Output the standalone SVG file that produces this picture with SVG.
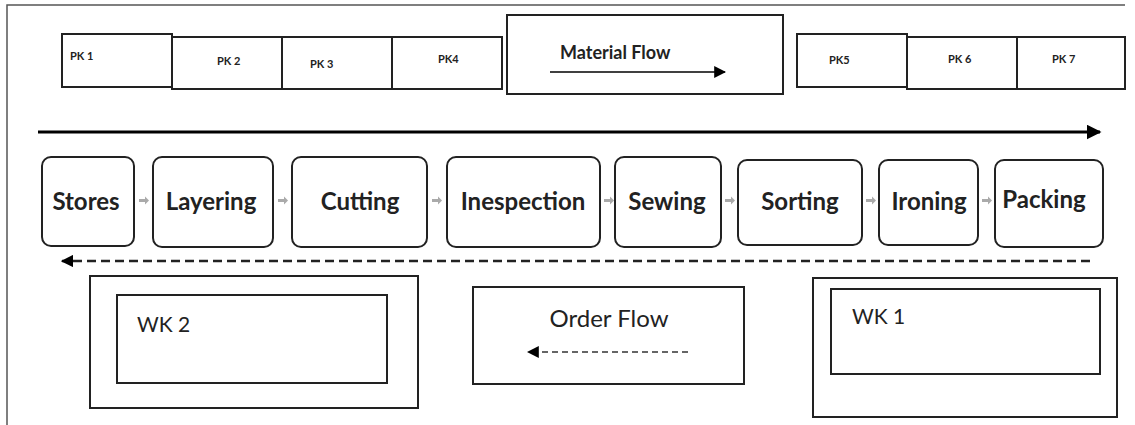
<svg xmlns="http://www.w3.org/2000/svg" width="1135" height="425" viewBox="0 0 1135 425">
<defs>
<style>
.box{fill:#fff;stroke:#222;stroke-width:2}
.pk{fill:#fff;stroke:#222;stroke-width:2}
.proc{fill:#fff;stroke:#222;stroke-width:2}
.pkt{font-family:Lato,"Liberation Sans",sans-serif;font-weight:bold;font-size:11px;fill:#222}
.pt{font-family:Lato,"Liberation Sans",sans-serif;font-weight:bold;font-size:24px;fill:#222;text-anchor:middle}
.lt{font-family:Lato,"Liberation Sans",sans-serif;font-size:21px;fill:#222}
.mt{font-family:Lato,"Liberation Sans",sans-serif;font-weight:bold;font-size:18px;fill:#222}
.small{fill:#aaa}
</style>
<marker id="ah" viewBox="0 0 10 10" refX="9" refY="5" markerWidth="5" markerHeight="5" orient="auto"><path d="M0,0L10,5L0,10z" fill="#000"/></marker>
<marker id="ah3" viewBox="0 0 10 10" refX="9" refY="5" markerWidth="8" markerHeight="8" orient="auto"><path d="M0,0L10,5L0,10z" fill="#000"/></marker>
</defs>
<rect width="1135" height="425" fill="#fff"/>
<path d="M7,425V5H1125" fill="none" stroke="#555" stroke-width="1.5"/>

<g id="pk1"><rect class="pk" x="62" y="34" width="110" height="53"/><text class="pkt" x="70" y="60">PK 1</text></g>
<g id="pk2"><rect class="pk" x="172" y="37" width="110" height="52"/><text class="pkt" x="217" y="65">PK 2</text></g>
<g id="pk3"><rect class="pk" x="282" y="37" width="110" height="52"/><text class="pkt" x="310" y="68">PK 3</text></g>
<g id="pk4"><rect class="pk" x="392" y="37" width="110" height="52"/><text class="pkt" x="438" y="63">PK4</text></g>
<g id="material-flow"><rect class="box" x="507" y="15" width="276" height="79"/><text class="mt" x="560" y="59">Material Flow</text><line x1="550" y1="72" x2="725" y2="72" stroke="#000" stroke-width="1.5" marker-end="url(#ah3)"/></g>
<g id="pk5"><rect class="pk" x="797" y="34" width="110" height="53"/><text class="pkt" x="829" y="64">PK5</text></g>
<g id="pk6"><rect class="pk" x="907" y="37" width="110" height="52"/><text class="pkt" x="948" y="63">PK 6</text></g>
<g id="pk7"><rect class="pk" x="1017" y="37" width="108" height="52"/><text class="pkt" x="1052" y="63">PK 7</text></g>

<g id="stores"><rect class="proc" x="42" y="157" width="92" height="89" rx="9"/><text class="pt" x="86" y="210">Stores</text></g>
<g id="layering"><rect class="proc" x="153" y="157" width="120" height="90" rx="9"/><text class="pt" x="211" y="210">Layering</text></g>
<g id="cutting"><rect class="proc" x="292" y="157" width="135" height="90" rx="9"/><text class="pt" x="360" y="210">Cutting</text></g>
<g id="inespection"><rect class="proc" x="447" y="157" width="153" height="90" rx="9"/><text class="pt" x="523" y="210">Inespection</text></g>
<g id="sewing"><rect class="proc" x="615" y="157" width="106" height="90" rx="9"/><text class="pt" x="667" y="210">Sewing</text></g>
<g id="sorting"><rect class="proc" x="738" y="160" width="124" height="85" rx="9"/><text class="pt" x="800" y="210">Sorting</text></g>
<g id="ironing"><rect class="proc" x="879" y="160" width="99" height="85" rx="9"/><text class="pt" x="929" y="210">Ironing</text></g>
<g id="packing"><rect class="proc" x="995" y="160" width="108" height="87" rx="9"/><text class="pt" x="1044" y="208">Packing</text></g>

<g id="wk2"><rect class="box" x="90" y="276" width="328" height="132"/><rect class="box" x="117" y="295" width="270" height="88"/><text class="lt" x="137" y="332">WK 2</text></g>
<g id="order-flow"><rect class="box" x="473" y="287" width="271" height="97"/><text class="lt" x="609" y="327" text-anchor="middle" style="font-size:24px">Order Flow</text><line x1="688" y1="352" x2="528" y2="352" stroke="#333" stroke-width="1.5" stroke-dasharray="6,4" marker-end="url(#ah3)"/></g>
<g id="wk1"><rect class="box" x="813" y="278" width="304" height="139"/><rect class="box" x="831" y="289" width="269" height="85"/><text class="lt" x="852" y="324">WK 1</text></g>

<g id="connectors">
<line x1="38" y1="132" x2="1100" y2="132" stroke="#000" stroke-width="3" marker-end="url(#ah)"/>
<line x1="1090" y1="261" x2="62" y2="261" stroke="#222" stroke-width="2.5" stroke-dasharray="9,5" marker-end="url(#ah)"/>
<g class="small">
<path d="M139,199h6v-2.5l4,4l-4,4v-2.5h-6z"/>
<path d="M278,199h6v-2.5l4,4l-4,4v-2.5h-6z"/>
<path d="M432,199h6v-2.5l4,4l-4,4v-2.5h-6z"/>
<path d="M604,199h6v-2.5l4,4l-4,4v-2.5h-6z"/>
<path d="M725,199h6v-2.5l4,4l-4,4v-2.5h-6z"/>
<path d="M866,199h6v-2.5l4,4l-4,4v-2.5h-6z"/>
<path d="M982,199h6v-2.5l4,4l-4,4v-2.5h-6z"/>
</g>
</g>
</svg>
